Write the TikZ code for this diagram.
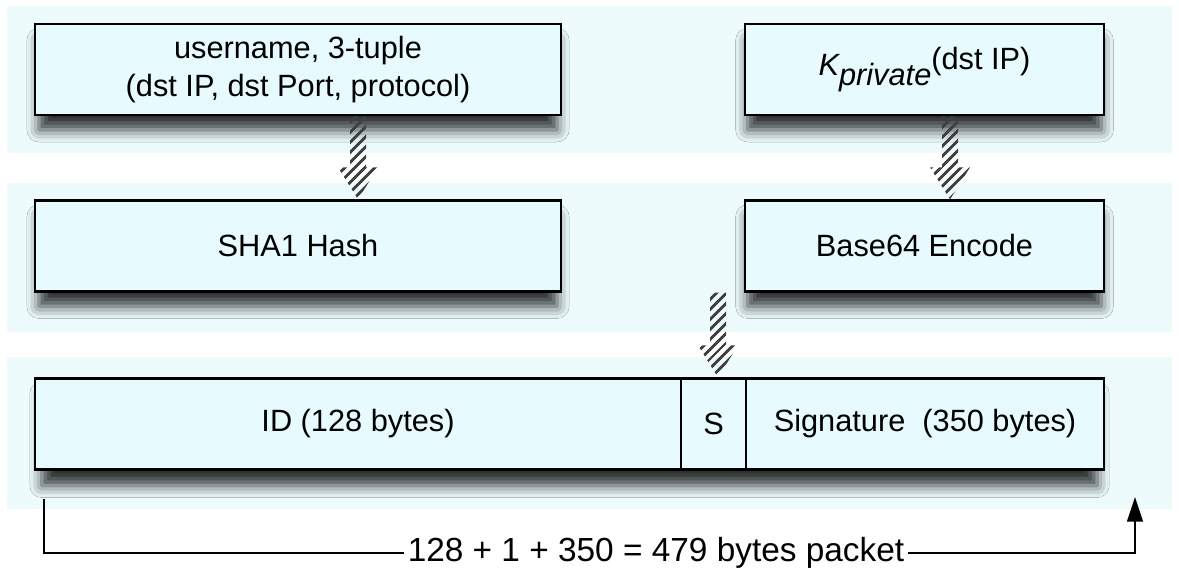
\documentclass[tikz,border=0pt]{standalone}
\usepackage{fontspec}
\setmainfont{Liberation Sans}
\usetikzlibrary{arrows.meta, patterns.meta, shadows.blur, backgrounds}
\definecolor{bandcol}{RGB}{237,251,253}
\definecolor{boxcol}{RGB}{231,251,254}

% striped down arrow between two points
\newcommand{\hatcharrow}[2]{%
  \path[hatch] ([xshift=-0.16cm]#1) -- ([xshift=0.16cm]#1)
    -- ([xshift=0.16cm, yshift=0.64cm]#2) -- ([xshift=0.4cm, yshift=0.64cm]#2)
    -- (#2) -- ([xshift=-0.4cm, yshift=0.64cm]#2)
    -- ([xshift=-0.16cm, yshift=0.64cm]#2) -- cycle;}

\begin{document}
\begin{tikzpicture}[x=0.02cm, y=-0.02cm]
\tikzstyle{band}=[fill=bandcol]
\tikzstyle{shadowed}=[blur shadow={shadow xshift=0pt, shadow yshift=-9pt, shadow scale=0.985, shadow blur radius=7pt, shadow opacity=80}]
\tikzstyle{box}=[rectangle, draw=black, line width=1.3pt, fill=boxcol, minimum height=1.82cm, inner sep=0pt, align=center, font=\fontsize{17.5}{22}\selectfont]
\tikzstyle{hatch}=[pattern={Lines[angle=45, distance=4pt, line width=1.7pt]}, pattern color=black!75]
\tikzstyle{connect}=[-{Triangle[length=14pt, width=9pt]}, line width=1pt]
    \useasboundingbox (0,0) rectangle (1179,572);

    \node[box, shadowed, minimum width=10.52cm] (user) at (298,69.5) {username, 3-tuple\\(dst IP, dst Port, protocol)};
    \node[box, shadowed, minimum width=7.18cm] (key) at (924.5,69.5) {{\itshape K}\raisebox{-0.3em}{\itshape private}\raisebox{0.2em}{(dst IP)}};
    \node[box, shadowed, minimum width=10.52cm] (sha) at (298,246) {SHA1 Hash};
    \node[box, shadowed, minimum width=7.18cm] (enc) at (924.5,246) {Base64 Encode};
    \node[box, minimum width=12.92cm] (id) at (358,424) {ID (128 bytes)};
    \node[box, minimum width=7.16cm] (sig) at (925,424) {Signature\ \ (350 bytes)};
    \node[box, minimum width=1.3cm] (s) at (713.5,424) {S};

    % background bands and the shadow of the packet row
    \begin{scope}[on background layer]
    \fill[band] (7,6) rectangle (1172,153);
    \fill[band] (7,183) rectangle (1172,332);
    \fill[band] (7,357) rectangle (1172,509);
    \path[shadowed, fill=boxcol] (id.north west) rectangle (sig.south east);
    \end{scope}

    % arrows
    \coordinate (a1) at (358,0);
    \coordinate (a2) at (950,0);
    \coordinate (a3) at (718,0);
    \hatcharrow{a1 |- user.south}{a1 |- sha.north}
    \hatcharrow{a2 |- key.south}{a2 |- enc.north}
    \hatcharrow{a3 |- enc.south}{a3 |- s.north}

    % packet size
    \node[font=\fontsize{19}{23}\selectfont, inner sep=2pt] (total) at (656,553) {128 + 1 + 350 = 479 bytes packet};
    \coordinate (lstart) at (44,499);
    \coordinate (rend) at (1135,497);
    \draw[line width=1pt] (lstart) |- (total.west);
    \draw[connect] (total.east) -| (rend);
\end{tikzpicture}
\end{document}
